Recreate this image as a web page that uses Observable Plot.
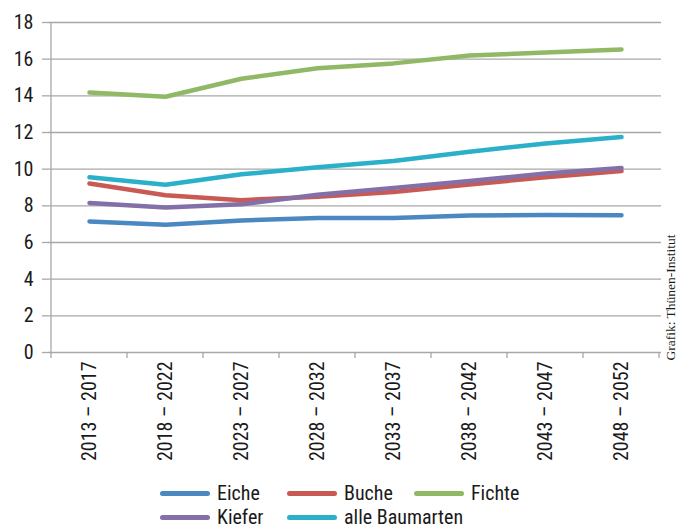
<!DOCTYPE html>
<html>
<head>
<meta charset="utf-8">
<script src="https://cdn.jsdelivr.net/npm/d3@7"></script>
<script src="https://cdn.jsdelivr.net/npm/@observablehq/plot@0.6"></script>
<style>
  html, body { margin: 0; padding: 0; background: #fff; }
  #wrap { width: 680px; position: relative; }
  .cond { font-family: "Liberation Sans Narrow", "Arial Narrow", "Roboto Condensed", sans-serif; }
  #legend { display: grid; grid-template-columns: 127px 127px 127px; margin-left: 160px; padding-top: 6px; }
  .item { display: flex; align-items: center; height: 24px; font-size: 20px; color: #1a1a1a; white-space: nowrap; }
  .sw { width: 50px; height: 5px; border-radius: 3px; margin-right: 7px; flex: none; }
</style>
</head>
<body>
<div id="wrap" class="cond"></div>
<script>
const periods = ["2013 – 2017", "2018 – 2022", "2023 – 2027", "2028 – 2032", "2033 – 2037", "2038 – 2042", "2043 – 2047", "2048 – 2052"];
const seriesNames = ["Eiche", "Buche", "Fichte", "Kiefer", "alle Baumarten"];
const seriesColors = ["#4a88c2", "#c85a53", "#90b865", "#8470a8", "#2bb0c9"];
const eiche  = [7.15, 6.97, 7.20, 7.33, 7.34, 7.47, 7.50, 7.49];
const buche  = [9.22, 8.58, 8.31, 8.50, 8.75, 9.16, 9.56, 9.90];
const fichte = [14.18, 13.95, 14.93, 15.50, 15.77, 16.20, 16.36, 16.53];
const kiefer = [8.16, 7.91, 8.08, 8.60, 8.98, 9.35, 9.76, 10.07];
const alle   = [9.56, 9.15, 9.72, 10.10, 10.45, 10.95, 11.40, 11.75];
const yTicks = [0, 2, 4, 6, 8, 10, 12, 14, 16, 18];
const credit = "Grafik: Thünen-Institut";

const seriesValues = [eiche, buche, fichte, kiefer, alle];
const rows = [];
seriesNames.forEach((name, si) => {
  periods.forEach((p, i) => rows.push({series: name, period: p, value: seriesValues[si][i]}));
});

const gridColor = "#a8a8a8";
const fontFam = '"Liberation Sans Narrow", "Arial Narrow", "Roboto Condensed", sans-serif';

// custom mark: left axis line and tick marks at band boundaries of the x axis
function axisFrame(index, scales, values, dims) {
  const x = scales.x, y = scales.y;
  const xs = periods.map(p => x(p));
  const step = xs[1] - xs[0];
  xs.push(xs[xs.length - 1] + step);
  const y0 = y(0), yTop = y(18);
  const g = d3.create("svg:g").attr("stroke", gridColor).attr("stroke-width", 1.3);
  g.append("line").attr("x1", xs[0]).attr("x2", xs[0]).attr("y1", yTop).attr("y2", y0);
  xs.forEach(v => g.append("line").attr("x1", v).attr("x2", v).attr("y1", y0).attr("y2", y0 + 6));
  return g.node();
}

const chart = Plot.plot({
  width: 680,
  height: 475,
  marginLeft: 48,
  marginRight: 19,
  marginTop: 22,
  marginBottom: 123,
  style: {fontFamily: fontFam, fontSize: "20px", color: "#1a1a1a", background: "#fff"},
  x: {type: "band", domain: periods, padding: 0, label: null},
  y: {domain: [0, 18], label: null},
  color: {domain: seriesNames, range: seriesColors},
  marks: [
    Plot.ruleY(yTicks.filter(d => d > 0), {stroke: gridColor, strokeWidth: 1.3}),
    Plot.ruleY([0], {stroke: gridColor, strokeWidth: 1.3}),
    Plot.axisY({ticks: yTicks, tickSize: 6, tickPadding: 9, stroke: gridColor, strokeWidth: 1.3, fontSize: 20, label: null}),
    Plot.axisX({tickSize: 0, tickPadding: 9, tickRotate: -90, fontSize: 20, label: null}),
    axisFrame,
    Plot.line(rows, {x: "period", y: "value", z: "series", stroke: "series", strokeWidth: 4.5, strokeLinecap: "round", strokeLinejoin: "round"}),
    Plot.text([credit], {frameAnchor: "bottom-right", text: d => d, rotate: -90, textAnchor: "start", dx: 13, dy: 8, fontFamily: '"Liberation Serif", "Times New Roman", serif', fontSize: 13.5, fill: "#1a1a1a"})
  ]
});

const wrap = document.getElementById("wrap");
wrap.appendChild(chart);

const legend = document.createElement("div");
legend.id = "legend";
seriesNames.forEach((name, i) => {
  const it = document.createElement("div");
  it.className = "item";
  const sw = document.createElement("span");
  sw.className = "sw";
  sw.style.background = seriesColors[i];
  const tx = document.createElement("span");
  tx.textContent = name;
  it.appendChild(sw); it.appendChild(tx);
  legend.appendChild(it);
});
wrap.appendChild(legend);
</script>
</body>
</html>
